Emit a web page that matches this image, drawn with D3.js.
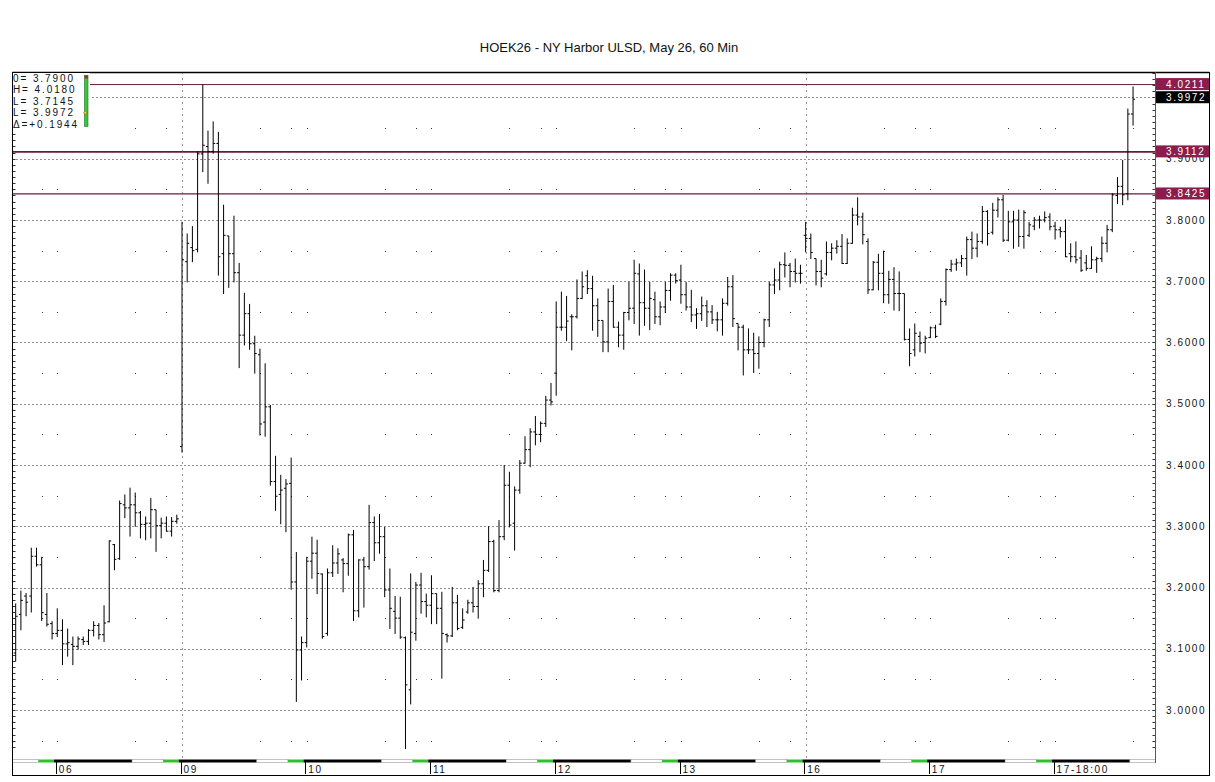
<!DOCTYPE html>
<html>
<head>
<meta charset="utf-8">
<script src="https://cdn.jsdelivr.net/npm/d3@7"></script>
<style>
body { margin: 0; background: #fff; }
svg text { font-family: Arial, "Liberation Sans", sans-serif; }
</style>
</head>
<body>
<div id="chart"></div>
<script>
// hourly bars: [open, high, low, close]
var bars = [
    [3.093, 3.174, 3.080, 3.153], [3.156, 3.195, 3.131, 3.179], [3.186, 3.191, 3.154, 3.176], [3.186, 3.265, 3.160, 3.251],
    [3.251, 3.265, 3.235, 3.237], [3.237, 3.250, 3.146, 3.159], [3.156, 3.191, 3.137, 3.140], [3.141, 3.145, 3.116, 3.125],
    [3.125, 3.166, 3.120, 3.130], [3.130, 3.148, 3.074, 3.108], [3.108, 3.133, 3.088, 3.110], [3.107, 3.120, 3.074, 3.104],
    [3.104, 3.120, 3.099, 3.116], [3.115, 3.120, 3.107, 3.112], [3.112, 3.132, 3.107, 3.130], [3.130, 3.145, 3.121, 3.138],
    [3.138, 3.142, 3.116, 3.123], [3.123, 3.171, 3.112, 3.142], [3.144, 3.277, 3.144, 3.276], [3.270, 3.271, 3.229, 3.246],
    [3.247, 3.342, 3.246, 3.337], [3.335, 3.352, 3.314, 3.330], [3.330, 3.363, 3.284, 3.335], [3.335, 3.355, 3.300, 3.322],
    [3.322, 3.325, 3.281, 3.303], [3.303, 3.316, 3.278, 3.305], [3.305, 3.346, 3.281, 3.327], [3.327, 3.327, 3.259, 3.301],
    [3.301, 3.314, 3.281, 3.305], [3.305, 3.316, 3.292, 3.292], [3.292, 3.315, 3.284, 3.308], [3.308, 3.319, 3.305, 3.312],
    [3.430, 3.797, 3.421, 3.735], [3.732, 3.778, 3.699, 3.762], [3.755, 3.790, 3.732, 3.750], [3.752, 3.912, 3.748, 3.908],
    [3.908, 4.021, 3.879, 3.922], [3.920, 3.946, 3.860, 3.912], [3.912, 3.961, 3.909, 3.925], [3.925, 3.944, 3.710, 3.740],
    [3.745, 3.825, 3.680, 3.775], [3.774, 3.774, 3.690, 3.745], [3.745, 3.807, 3.699, 3.714], [3.714, 3.730, 3.559, 3.612],
    [3.612, 3.681, 3.596, 3.647], [3.647, 3.663, 3.589, 3.598], [3.598, 3.611, 3.550, 3.582], [3.580, 3.590, 3.449, 3.467],
    [3.470, 3.566, 3.447, 3.495], [3.495, 3.498, 3.367, 3.373], [3.373, 3.415, 3.326, 3.349], [3.352, 3.384, 3.304, 3.359],
    [3.362, 3.377, 3.291, 3.369], [3.370, 3.412, 3.197, 3.209], [3.209, 3.258, 3.014, 3.098], [3.098, 3.120, 3.049, 3.110],
    [3.110, 3.250, 3.103, 3.243], [3.243, 3.283, 3.215, 3.256], [3.256, 3.278, 3.190, 3.223], [3.222, 3.223, 3.117, 3.120],
    [3.125, 3.231, 3.122, 3.224], [3.224, 3.269, 3.218, 3.240], [3.240, 3.264, 3.223, 3.255], [3.245, 3.248, 3.193, 3.239],
    [3.239, 3.288, 3.220, 3.286], [3.286, 3.294, 3.146, 3.162], [3.162, 3.246, 3.152, 3.245], [3.245, 3.250, 3.168, 3.234],
    [3.234, 3.335, 3.230, 3.306], [3.306, 3.316, 3.244, 3.273], [3.273, 3.320, 3.256, 3.283], [3.283, 3.299, 3.185, 3.196],
    [3.196, 3.231, 3.133, 3.166], [3.161, 3.186, 3.125, 3.150], [3.150, 3.185, 3.117, 3.119], [3.118, 3.120, 2.937, 3.041],
    [3.033, 3.223, 3.010, 3.127], [3.125, 3.209, 3.114, 3.204], [3.204, 3.224, 3.158, 3.177], [3.177, 3.190, 3.152, 3.171],
    [3.171, 3.220, 3.141, 3.190], [3.190, 3.190, 3.141, 3.166], [3.166, 3.193, 3.052, 3.125], [3.123, 3.125, 3.111, 3.121],
    [3.121, 3.201, 3.120, 3.175], [3.175, 3.188, 3.131, 3.133], [3.135, 3.166, 3.133, 3.147], [3.160, 3.180, 3.158, 3.175],
    [3.175, 3.201, 3.160, 3.169], [3.169, 3.212, 3.150, 3.206], [3.206, 3.245, 3.185, 3.228], [3.228, 3.300, 3.226, 3.275],
    [3.275, 3.278, 3.193, 3.195], [3.195, 3.310, 3.193, 3.283], [3.283, 3.400, 3.278, 3.367], [3.367, 3.389, 3.299, 3.302],
    [3.305, 3.365, 3.261, 3.359], [3.359, 3.408, 3.354, 3.403], [3.403, 3.447, 3.403, 3.425], [3.425, 3.460, 3.397, 3.454],
    [3.454, 3.480, 3.433, 3.450], [3.450, 3.471, 3.438, 3.468], [3.468, 3.513, 3.463, 3.506], [3.506, 3.534, 3.498, 3.503],
    [3.550, 3.667, 3.514, 3.625], [3.625, 3.683, 3.620, 3.625], [3.625, 3.676, 3.603, 3.635], [3.642, 3.646, 3.588, 3.642],
    [3.642, 3.703, 3.640, 3.672], [3.672, 3.716, 3.672, 3.691], [3.709, 3.718, 3.680, 3.688], [3.688, 3.709, 3.620, 3.660],
    [3.660, 3.672, 3.610, 3.636], [3.636, 3.636, 3.585, 3.601], [3.601, 3.688, 3.585, 3.667], [3.667, 3.694, 3.625, 3.625],
    [3.625, 3.634, 3.593, 3.612], [3.612, 3.650, 3.589, 3.649], [3.649, 3.699, 3.637, 3.656], [3.656, 3.735, 3.631, 3.713],
    [3.712, 3.729, 3.612, 3.665], [3.665, 3.719, 3.628, 3.656], [3.656, 3.699, 3.621, 3.672], [3.670, 3.683, 3.631, 3.642],
    [3.642, 3.667, 3.629, 3.658], [3.658, 3.699, 3.649, 3.685], [3.685, 3.713, 3.669, 3.710], [3.710, 3.713, 3.697, 3.701],
    [3.702, 3.727, 3.664, 3.678], [3.678, 3.699, 3.653, 3.658], [3.658, 3.686, 3.634, 3.645], [3.645, 3.656, 3.623, 3.647],
    [3.647, 3.675, 3.636, 3.660], [3.660, 3.669, 3.626, 3.650], [3.650, 3.661, 3.631, 3.637], [3.637, 3.650, 3.619, 3.637],
    [3.637, 3.672, 3.612, 3.664], [3.664, 3.707, 3.661, 3.691], [3.691, 3.710, 3.626, 3.639], [3.631, 3.631, 3.588, 3.625],
    [3.625, 3.629, 3.547, 3.588], [3.588, 3.623, 3.582, 3.588], [3.588, 3.616, 3.551, 3.582], [3.582, 3.610, 3.558, 3.600],
    [3.600, 3.639, 3.593, 3.637], [3.637, 3.699, 3.626, 3.694], [3.694, 3.721, 3.680, 3.702], [3.702, 3.732, 3.686, 3.727],
    [3.727, 3.747, 3.707, 3.726], [3.726, 3.730, 3.691, 3.716], [3.716, 3.737, 3.699, 3.713], [3.713, 3.727, 3.697, 3.713],
    [3.775, 3.797, 3.748, 3.770], [3.770, 3.778, 3.737, 3.747], [3.737, 3.737, 3.694, 3.716], [3.716, 3.735, 3.691, 3.705],
    [3.712, 3.765, 3.710, 3.747], [3.747, 3.762, 3.735, 3.754], [3.754, 3.767, 3.746, 3.757], [3.757, 3.777, 3.729, 3.729],
    [3.729, 3.770, 3.729, 3.762], [3.762, 3.820, 3.762, 3.808], [3.808, 3.837, 3.792, 3.805], [3.805, 3.812, 3.761, 3.776],
    [3.765, 3.770, 3.680, 3.686], [3.686, 3.733, 3.686, 3.731], [3.731, 3.745, 3.686, 3.713], [3.713, 3.750, 3.665, 3.678],
    [3.678, 3.717, 3.664, 3.703], [3.703, 3.723, 3.653, 3.680], [3.680, 3.716, 3.652, 3.680], [3.680, 3.680, 3.604, 3.605],
    [3.605, 3.623, 3.562, 3.582], [3.588, 3.631, 3.578, 3.615], [3.610, 3.618, 3.585, 3.599], [3.600, 3.611, 3.583, 3.607],
    [3.608, 3.626, 3.608, 3.624], [3.624, 3.629, 3.608, 3.610], [3.630, 3.672, 3.629, 3.667], [3.667, 3.721, 3.661, 3.719],
    [3.719, 3.735, 3.716, 3.728], [3.728, 3.737, 3.718, 3.730], [3.730, 3.743, 3.724, 3.737], [3.737, 3.773, 3.710, 3.768],
    [3.768, 3.781, 3.737, 3.754], [3.754, 3.778, 3.740, 3.765], [3.765, 3.823, 3.762, 3.814], [3.814, 3.816, 3.759, 3.778],
    [3.780, 3.828, 3.777, 3.816], [3.816, 3.837, 3.805, 3.833], [3.833, 3.841, 3.765, 3.767], [3.767, 3.815, 3.766, 3.797],
    [3.797, 3.815, 3.754, 3.800], [3.800, 3.817, 3.757, 3.773], [3.773, 3.816, 3.754, 3.812], [3.775, 3.797, 3.773, 3.792],
    [3.790, 3.805, 3.784, 3.800], [3.800, 3.807, 3.787, 3.800], [3.800, 3.814, 3.797, 3.804], [3.805, 3.811, 3.784, 3.789],
    [3.790, 3.797, 3.769, 3.784], [3.784, 3.789, 3.772, 3.781], [3.781, 3.801, 3.740, 3.740], [3.745, 3.762, 3.732, 3.740],
    [3.740, 3.765, 3.730, 3.735], [3.738, 3.751, 3.716, 3.718], [3.730, 3.743, 3.718, 3.721], [3.721, 3.757, 3.721, 3.735],
    [3.735, 3.740, 3.7145, 3.737], [3.737, 3.773, 3.732, 3.762], [3.762, 3.792, 3.748, 3.784], [3.784, 3.844, 3.781, 3.841],
    [3.840, 3.870, 3.827, 3.855], [3.855, 3.898, 3.825, 3.841], [3.843, 3.982, 3.833, 3.973], [3.973, 4.018, 3.955, 3.9972]
];

var dayLabels = ["06", "09", "10", "11", "12", "13", "16", "17", "17-18:00"];
var dayStart = [8, 32, 56, 80, 104, 128, 152, 176, 200];   // bar index of first hour of each session
var weekStart = [32, 152];
var barsPerDay = 24;
// session strip: [colour, hours]
var sessionParts = [["#000", 15], ["#fff", 6], ["#2ec02e", 3]];

var yTicks = [3.0, 3.1, 3.2, 3.3, 3.4, 3.5, 3.6, 3.7, 3.8, 3.9, 4.0];
var levels = [4.0211, 3.9112, 3.8425];
var levelWidth = [1, 1.6, 1.3];
var lastPrice = 3.9972;
var legendRows = ["0= 3.7900", "H= 4.0180", "L= 3.7145", "L= 3.9972", "\u0394=+0.1944"];
var title = "HOEK26 - NY Harbor ULSD, May 26, 60 Min";

var W = 1215, H = 782;
var plot = {left: 12.5, right: 1155.5, top: 72.5, bottom: 759};
var step = 5.197;

var x = d3.scaleLinear()
    .domain([0, bars.length - 1])
    .range([15.7, 15.7 + step * (bars.length - 1)]);
var y = d3.scaleLinear().domain([3.8, 3.0]).range([220, 710]);

var svg = d3.select("#chart").append("svg")
    .attr("width", W)
    .attr("height", H)
    .style("background", "#fff");

svg.append("text")
    .attr("x", 609).attr("y", 52)
    .attr("text-anchor", "middle")
    .attr("font-size", 13)
    .attr("fill", "#111")
    .text(title);

var grid = svg.append("g");

// horizontal dotted price grid
grid.selectAll(".hgrid")
    .data(yTicks)
    .enter().append("line")
    .attr("x1", plot.left).attr("x2", plot.right)
    .attr("y1", d => Math.round(y(d)) + 0.5)
    .attr("y2", d => Math.round(y(d)) + 0.5)
    .attr("stroke", "#222")
    .attr("stroke-dasharray", "1,3");

// weekly dotted verticals
grid.selectAll(".vgrid")
    .data(weekStart)
    .enter().append("line")
    .attr("x1", d => Math.round(x(d)) + 0.5)
    .attr("x2", d => Math.round(x(d)) + 0.5)
    .attr("y1", plot.top).attr("y2", plot.bottom)
    .attr("stroke", "#222")
    .attr("stroke-dasharray", "1,5");

// sparse dots on session boundaries, at the half-levels
var dotCols = d3.range(bars.length).filter(function(i) {
    var k = ((i - dayStart[0]) % barsPerDay + barsPerDay) % barsPerDay;
    return (k === 0 || k === 15 || k === 21) && weekStart.indexOf(i) < 0;
});
var dotRows = d3.range(2.95, 4.0, 0.1);
var dots = [];
dotCols.forEach(c => dotRows.forEach(r => dots.push([c, r])));
grid.selectAll(".dot")
    .data(dots)
    .enter().append("rect")
    .attr("x", d => Math.round(x(d[0])))
    .attr("y", d => Math.round(y(d[1])))
    .attr("width", 1).attr("height", 1)
    .attr("fill", "#333");

// minor ticks on both plot edges
var minor = d3.range(2.94, 4.045, 0.01);
grid.selectAll(".mtl")
    .data(minor)
    .enter().append("line")
    .attr("x1", plot.left).attr("x2", plot.left + 3)
    .attr("y1", d => Math.round(y(d)) + 0.5)
    .attr("y2", d => Math.round(y(d)) + 0.5)
    .attr("stroke", "#333");
grid.selectAll(".mtr")
    .data(minor)
    .enter().append("line")
    .attr("x1", plot.right - 3).attr("x2", plot.right)
    .attr("y1", d => Math.round(y(d)) + 0.5)
    .attr("y2", d => Math.round(y(d)) + 0.5)
    .attr("stroke", "#333");

// support / resistance levels
svg.selectAll(".level")
    .data(levels)
    .enter().append("line")
    .attr("x1", plot.left).attr("x2", plot.right)
    .attr("y1", d => y(d)).attr("y2", d => y(d))
    .attr("stroke", "#6a1a3e")
    .attr("stroke-width", (d, i) => levelWidth[i]);

// OHLC bars
var g = svg.append("g").attr("stroke", "#000").attr("stroke-width", 1);
var bar = g.selectAll(".bar").data(bars).enter().append("g");
bar.append("line")
    .attr("x1", (d, i) => x(i)).attr("x2", (d, i) => x(i))
    .attr("y1", d => y(d[1])).attr("y2", d => y(d[2]) + 0.5);
bar.append("line")
    .attr("x1", (d, i) => x(i) - 2).attr("x2", (d, i) => x(i))
    .attr("y1", d => y(d[0])).attr("y2", d => y(d[0]));
bar.append("line")
    .attr("x1", (d, i) => x(i)).attr("x2", (d, i) => x(i) + 2)
    .attr("y1", d => y(d[3])).attr("y2", d => y(d[3]));

// right axis labels
var axisG = svg.append("g");
axisG.selectAll("text")
    .data(yTicks)
    .enter().append("text")
    .attr("x", 1166).attr("y", d => y(d) + 3.5)
    .attr("font-size", 10)
    .attr("letter-spacing", 1.6)
    .attr("fill", "#111")
    .text(d => d.toFixed(4));

// price boxes
var boxes = levels.map(v => ({v: v, bg: "#8c1c4c", dy: 0}));
boxes.push({v: lastPrice, bg: "#000", dy: -1.5});
var box = svg.selectAll(".box").data(boxes).enter().append("g");
box.append("rect")
    .attr("x", 1156).attr("width", 53)
    .attr("y", d => y(d.v) + d.dy - 6.5).attr("height", 12)
    .attr("fill", d => d.bg);
box.append("text")
    .attr("x", 1166).attr("y", d => y(d.v) + d.dy + 3.5)
    .attr("font-size", 10)
    .attr("letter-spacing", 1.6)
    .attr("fill", "#fff")
    .text(d => d.v.toFixed(4));

// session strip along the bottom
var strip = [];
dayStart.forEach(function(s) {
    var at = s;
    sessionParts.forEach(function(p) {
        strip.push({from: at, to: at + p[1], color: p[0]});
        at += p[1];
    });
});
strip.unshift({from: dayStart[0] - 3, to: dayStart[0], color: sessionParts[2][0]});
strip.unshift({from: -0.6, to: dayStart[0] - 3, color: "#fff"});
var sx = i => Math.min(plot.right, x(i) - 3.2);
svg.selectAll(".seg")
    .data(strip)
    .enter().append("rect")
    .attr("x", d => Math.max(plot.left, sx(d.from)))
    .attr("width", d => sx(d.to) - Math.max(plot.left, sx(d.from)))
    .attr("y", 759.5).attr("height", 3)
    .attr("fill", d => d.color)
    .attr("stroke", d => d.color === "#fff" ? "#999" : "none")
    .attr("stroke-width", 0.6);

// day ticks and labels
var days = svg.selectAll(".day").data(dayLabels).enter().append("g");
days.append("line")
    .attr("x1", (d, i) => Math.round(x(dayStart[i]) - 1.3) + 0.5)
    .attr("x2", (d, i) => Math.round(x(dayStart[i]) - 1.3) + 0.5)
    .attr("y1", 762).attr("y2", 774)
    .attr("stroke", "#000");
days.append("text")
    .attr("x", (d, i) => x(dayStart[i]) + 1.5)
    .attr("y", 773)
    .attr("font-size", 10)
    .attr("letter-spacing", 1.6)
    .attr("fill", "#111")
    .text(d => d);

// frame
var frame = svg.append("g").attr("stroke", "#000").attr("fill", "none");
frame.append("line").attr("x1", plot.left).attr("x2", 1209.5).attr("y1", 72.5).attr("y2", 72.5).attr("stroke-width", 1.5);
frame.append("line").attr("x1", plot.left).attr("x2", plot.left).attr("y1", 72).attr("y2", 776);
frame.append("line").attr("x1", 1209.5).attr("x2", 1209.5).attr("y1", 72).attr("y2", 776);
frame.append("line").attr("x1", plot.left).attr("x2", 1209.5).attr("y1", 775.5).attr("y2", 775.5);
frame.append("line").attr("x1", plot.right).attr("x2", plot.right).attr("y1", 72).attr("y2", 763).attr("stroke", "#555");

// OHLC readout in the corner
var legend = svg.append("g");
legend.append("rect")
    .attr("x", 13).attr("y", 73).attr("width", 77).attr("height", 56)
    .attr("fill", "#fff");
legend.selectAll("text")
    .data(legendRows)
    .enter().append("text")
    .attr("x", 13).attr("y", (d, i) => 81.5 + i * 11.5)
    .attr("font-size", 10)
    .attr("letter-spacing", 1.9)
    .attr("fill", "#111")
    .text(d => d);
legend.append("rect")
    .attr("x", 84.5).attr("y", 75.5).attr("width", 3.5).attr("height", 51)
    .attr("fill", "#33cc33").attr("stroke", "#2a6a2a").attr("stroke-width", 0.6);
legend.append("rect")
    .attr("x", 84.5).attr("y", 75.5).attr("width", 3.5).attr("height", 3)
    .attr("fill", "#a03030");
legend.append("circle")
    .attr("cx", 85.3).attr("cy", 112.7).attr("r", 1.6)
    .attr("fill", "#e0d020").attr("stroke", "#6b5a10").attr("stroke-width", 0.5);
</script>
</body>
</html>
